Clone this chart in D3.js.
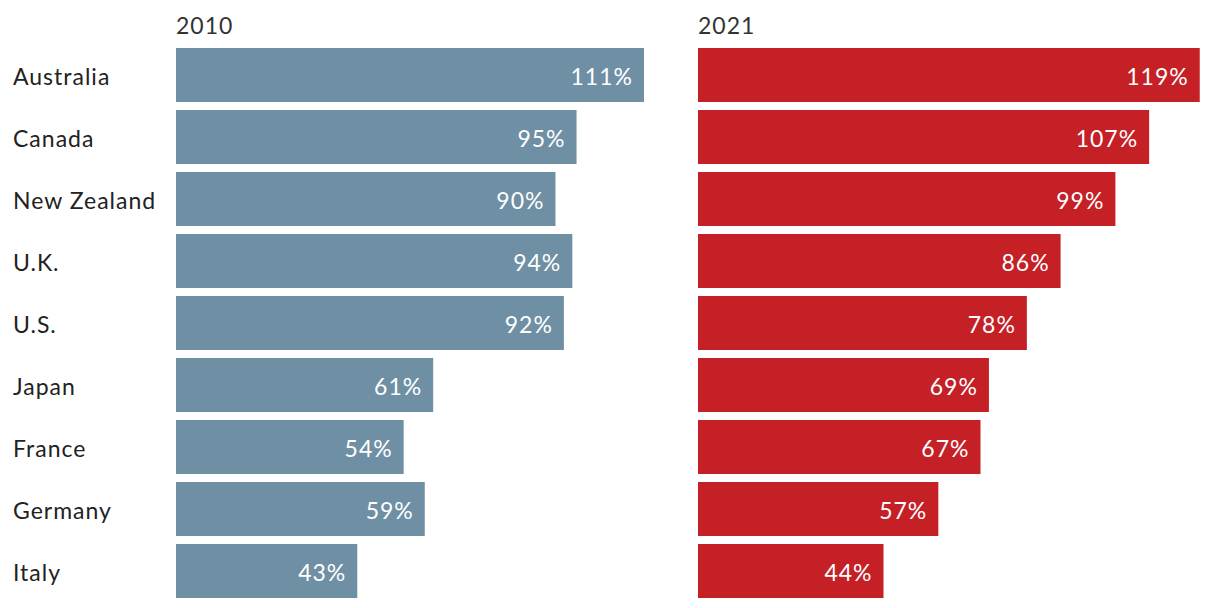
<!DOCTYPE html>
<html><head><meta charset="utf-8">
<script src="https://cdn.jsdelivr.net/npm/d3@7"></script>
<style>
html,body{margin:0;padding:0;background:#fff;}
text{font-family:"Lato","Open Sans",sans-serif;letter-spacing:1px;}
</style></head>
<body><svg id="c" width="1220" height="608"></svg>
<script>
const countries = ["Australia","Canada","New Zealand","U.K.","U.S.","Japan","France","Germany","Italy"];
const values2010 = [111,95,90,94,92,61,54,59,43];
const values2021 = [119,107,99,86,78,69,67,57,44];
const panelTitles = ["2010","2021"];
const colors = ["#6f8fa4","#c42026"];

const svg = d3.select("#c");
const y = d3.scaleBand().domain(countries).range([48,598]).paddingInner(8/62).paddingOuter(0);
const panels = [{x0:176, vals:values2010}, {x0:698, vals:values2021}];
const FS = 23;

svg.append("g").selectAll("text").data(countries).join("text")
  .attr("x",13).attr("y",d=>y(d)+y.bandwidth()/2+10)
  .attr("font-size",FS).attr("fill","#222").text(d=>d);

panels.forEach((p,i)=>{
  const x = d3.scaleLinear().domain([0,111]).range([p.x0, p.x0+468]);
  const g = svg.append("g");
  g.append("text").attr("x",p.x0).attr("y",34).attr("font-size",FS).attr("fill","#333").text(panelTitles[i]);
  const data = countries.map((c,j)=>({c, v:p.vals[j]}));
  g.selectAll("rect").data(data).join("rect")
    .attr("x",x(0)).attr("y",d=>y(d.c)).attr("width",d=>x(d.v)-x(0)).attr("height",y.bandwidth())
    .attr("fill",colors[i]);
  g.selectAll("text.v").data(data).join("text").attr("class","v")
    .attr("x",d=>x(d.v)-11).attr("y",d=>y(d.c)+y.bandwidth()/2+10)
    .attr("text-anchor","end").attr("font-size",FS).attr("fill","#fff").text(d=>d.v+"%");
});
</script></body></html>
